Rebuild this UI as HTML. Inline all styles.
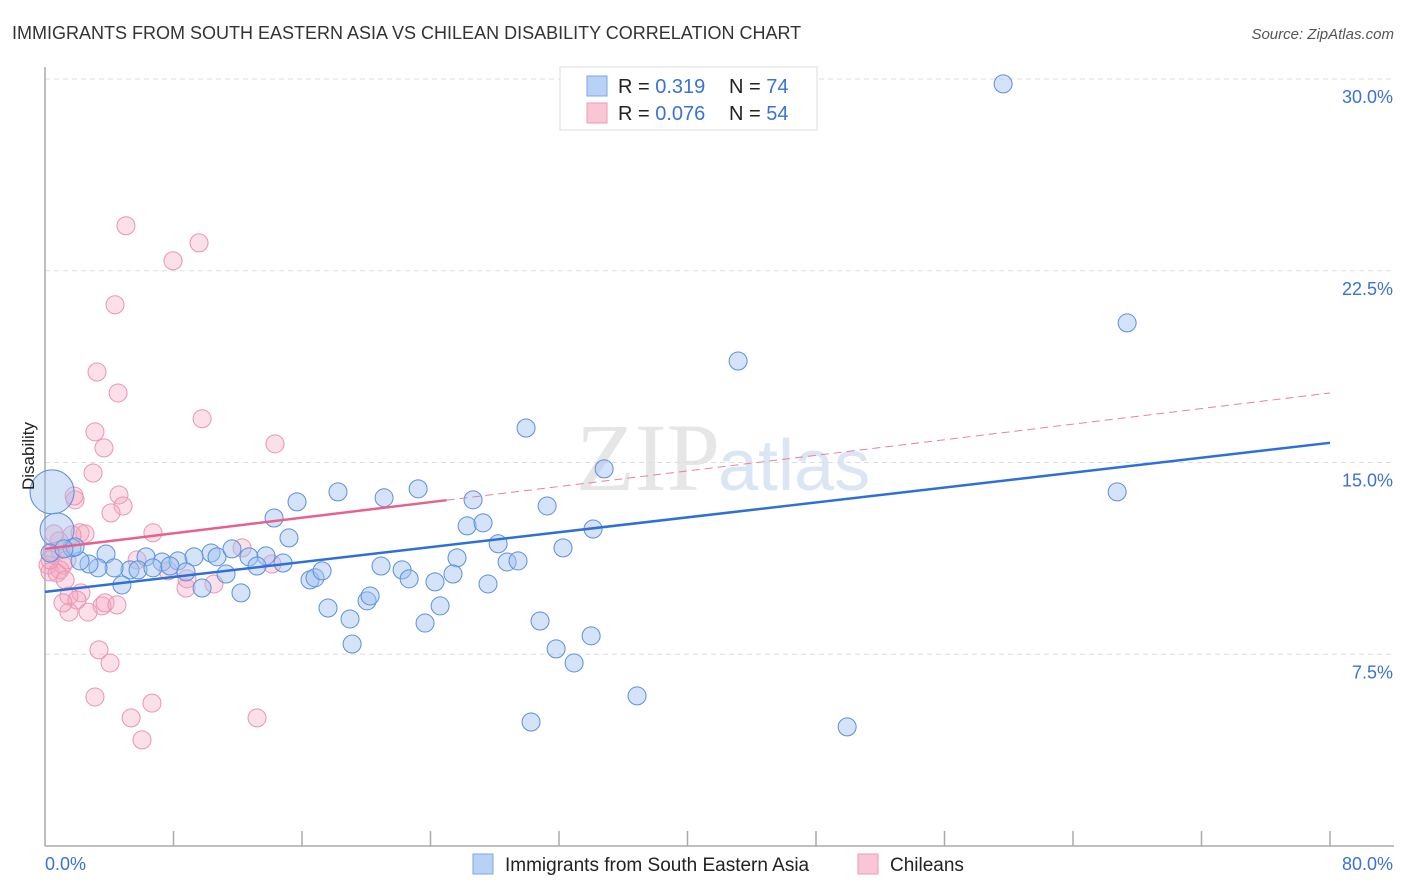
<!DOCTYPE html>
<html><head><meta charset="utf-8"><style>
body{margin:0;background:#fff;font-family:"Liberation Sans",sans-serif;}
svg{display:block}
</style></head><body>
<svg id="chart" width="1406" height="892" xmlns="http://www.w3.org/2000/svg">
<text x="12" y="39" font-size="18" fill="#333">IMMIGRANTS FROM SOUTH EASTERN ASIA VS CHILEAN DISABILITY CORRELATION CHART</text>
<text x="1394" y="39" font-size="15" fill="#555" font-style="italic" text-anchor="end">Source: ZipAtlas.com</text>
<text x="720" y="490" font-size="96" fill="#e6e6e6" text-anchor="end" font-family="Liberation Serif,serif">ZIP</text>
<text x="718" y="490" font-size="72" fill="#dbe6f5">atlas</text>
<g id="grid"></g>
<g id="axes"></g>
<g id="marks"></g>
<text transform="translate(34,456) rotate(-90)" font-size="17" fill="#222" text-anchor="middle">Disability</text>
<g>
<rect x="560" y="67" width="257" height="63" fill="#fff" stroke="#ddd"/>
<rect x="587" y="76" width="20" height="20" fill="#b8d1f5" stroke="#7ea6e6"/>
<rect x="587" y="103" width="20" height="20" fill="#f9c6d6" stroke="#ee9ab6"/>
<text x="618" y="93" font-size="20" fill="#222">R = <tspan fill="#3a72d8">0.319</tspan><tspan x="729">N = </tspan><tspan fill="#3a72d8">74</tspan></text>
<text x="618" y="120" font-size="20" fill="#222">R = <tspan fill="#3a72d8">0.076</tspan><tspan x="729">N = </tspan><tspan fill="#3a72d8">54</tspan></text>
</g>
<g>
<rect x="473" y="854" width="20" height="20" fill="#b8d1f5" stroke="#7ea6e6"/>
<text x="505" y="871" font-size="19" fill="#222">Immigrants from South Eastern Asia</text>
<rect x="858" y="854" width="20" height="20" fill="#f9c6d6" stroke="#ee9ab6"/>
<text x="890" y="871" font-size="19" fill="#222">Chileans</text>
</g>
</svg>
<script>
const xTicksLabels=["0.0%","80.0%"];
const yTicks=[7.5,15,22.5,30];
const yTickLabels=["7.5%","15.0%","22.5%","30.0%"];
const blueX=[59.65,67.37,43.15,29.95,34.81,66.75,18.24,23.23,21.11,15.69,26.65,31.26,14.26,26.28,27.27,34.12,15.19,28.21,32.25,25.65,3.80,6.29,7.29,8.28,9.28,10.34,10.71,11.64,12.70,13.76,13.20,14.82,5.29,4.79,4.30,3.30,2.74,2.18,1.68,5.79,6.72,7.78,8.78,11.27,9.78,12.20,16.50,16.81,17.25,20.92,22.23,22.67,24.28,25.40,27.58,28.77,29.45,17.62,18.99,20.05,20.24,24.60,23.66,30.82,34.00,19.12,31.82,32.94,36.86,30.26,49.94,0.44,0.75,0.31,1.87,1.18];
const blueY=[29.81,20.46,18.97,16.35,14.75,13.85,13.85,13.97,13.62,13.46,13.54,13.30,12.83,12.52,12.64,12.40,12.05,11.82,11.66,11.27,11.42,11.31,11.11,11.15,11.31,11.46,11.31,11.62,11.31,11.35,10.95,11.07,10.80,10.21,10.88,10.88,11.03,11.15,11.66,10.80,10.88,10.95,10.72,10.64,10.09,9.90,10.41,10.49,10.76,10.95,10.80,10.45,10.33,10.64,10.25,11.11,11.15,9.31,8.88,9.59,9.78,9.39,8.72,8.80,8.22,7.90,7.71,7.16,5.87,4.85,4.66,13.85,12.36,11.46,11.70,11.62];
const blueR=[9,9,9,9,9,9,9,9,9,9,9,9,9,9,9,9,9,9,9,9,9,9,9,9,9,9,9,9,9,9,9,9,9,9,9,9,9,9,9,9,9,9,9,9,9,9,9,9,9,9,9,9,9,9,9,9,9,9,9,9,9,9,9,9,9,9,9,9,9,9,9,22,17,9,9,9];
const pinkX=[5.04,9.59,7.97,4.36,3.24,4.55,9.78,3.11,3.67,14.32,2.99,1.87,1.81,4.61,4.86,4.11,6.72,2.18,2.49,1.68,0.87,0.56,0.44,0.93,1.12,0.19,0.31,0.93,0.75,1.25,5.73,7.66,12.27,14.13,8.78,8.84,10.52,2.24,1.49,1.99,1.49,1.12,3.55,3.74,4.48,2.68,3.36,4.05,3.11,6.66,5.36,13.20,6.04,0.31,1.37];
const pinkY=[24.26,23.59,22.89,21.17,18.54,17.72,16.71,16.20,15.57,15.73,14.59,13.54,13.69,13.73,13.30,13.03,12.25,12.25,12.21,12.17,11.93,12.21,11.50,11.58,10.99,10.99,10.72,10.80,10.68,10.41,11.19,10.76,11.66,11.03,10.09,10.45,10.25,9.90,9.78,9.62,9.15,9.51,9.39,9.51,9.43,9.15,7.67,7.16,5.83,5.59,5.01,5.01,4.15,11.19,11.19];
const blueTrend=[9.94,15.77];
const pinkTrend=[11.62,17.72];
const pinkSolidEnd=25;
const X0=45,X1=1330,Y0=846,YT=79;
const xs=v=>X0+(v/80)*(X1-X0);
const ys=v=>Y0-(v/30)*(Y0-YT);
const NS="http://www.w3.org/2000/svg";
function mk(tag,attrs,parent){const e=document.createElementNS(NS,tag);for(const k in attrs)e.setAttribute(k,attrs[k]);parent.appendChild(e);return e;}
const grid=document.getElementById('grid'),axes=document.getElementById('axes'),marks=document.getElementById('marks');
yTicks.forEach((t,i)=>{
 const l=mk('line',{x1:X0,x2:1394,y1:ys(t),y2:ys(t),stroke:'#ddd','stroke-dasharray':'5,4'},grid);
 
 
 const tx=mk('text',{x:1393,y:ys(t)+24,'font-size':18,fill:'#3a72d8','text-anchor':'end'},axes);
 tx.textContent=yTickLabels[i];
 
 
});
const ya=mk('line',{x1:X0,x2:X0,y1:67,y2:Y0,stroke:'#aaa','stroke-width':1.5},axes);


const xa=mk('line',{x1:X0,x2:1394,y1:Y0,y2:Y0,stroke:'#aaa','stroke-width':1.5},axes);


for(let v=8;v<=80;v+=8){
 const t=mk('line',{x1:xs(v),x2:xs(v),y1:831,y2:Y0,stroke:'#aaa','stroke-width':1.5},axes);
 
 
}
[[0,'start',X0],[80,'end',1393]].forEach((a,i)=>{
 const tx=mk('text',{x:a[2],y:870,'font-size':18,fill:'#3a72d8','text-anchor':a[1]},axes);
 tx.textContent=xTicksLabels[i];
 
 
});
pinkX.forEach((x,i)=>{
 const c=mk('circle',{cx:xs(x),cy:ys(pinkY[i]),r:9,fill:'rgba(244,165,192,0.35)',stroke:'#ec93b0','stroke-width':1},marks);
 
 
});
blueX.forEach((x,i)=>{
 const c=mk('circle',{cx:xs(x),cy:ys(blueY[i]),r:blueR[i],fill:'rgba(160,192,240,0.45)',stroke:'#5b8fe0','stroke-width':1},marks);
 
 
});
const bl=mk('line',{x1:xs(0),y1:ys(blueTrend[0]),x2:xs(80),y2:ys(blueTrend[1]),stroke:'#2f6fd8','stroke-width':2.5},marks);


const pe=pinkTrend[0]+(pinkTrend[1]-pinkTrend[0])*pinkSolidEnd/80;
const pl=mk('line',{x1:xs(0),y1:ys(pinkTrend[0]),x2:xs(pinkSolidEnd),y2:ys(pe),stroke:'#e8608c','stroke-width':2.5},marks);


const pd=mk('line',{x1:xs(pinkSolidEnd),y1:ys(pe),x2:xs(80),y2:ys(pinkTrend[1]),stroke:'#e8809f','stroke-width':1,'stroke-dasharray':'8,5'},marks);


</script>
</body></html>
